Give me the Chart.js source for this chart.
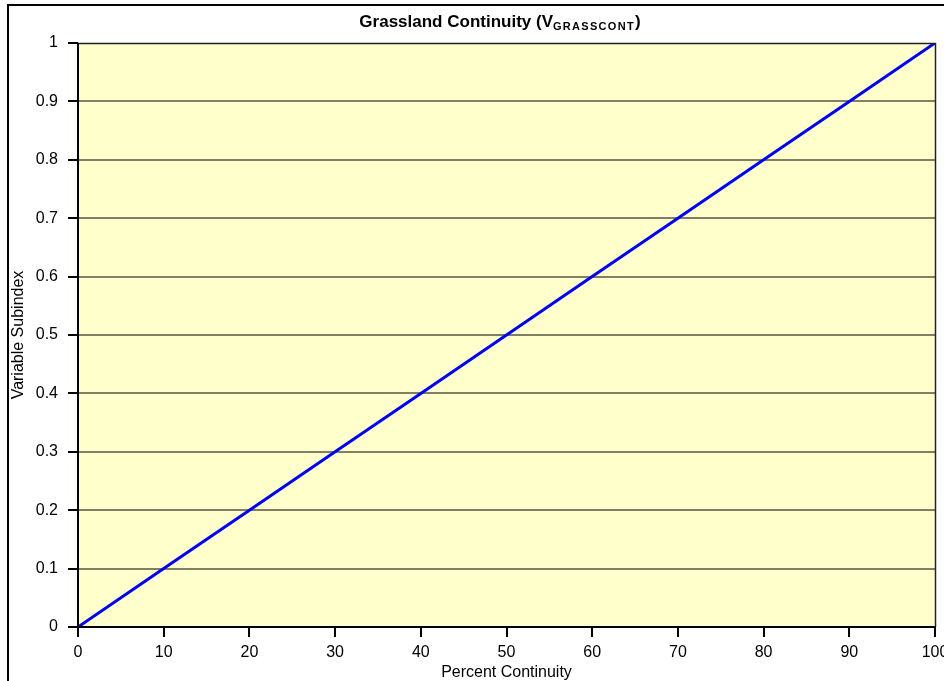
<!DOCTYPE html>
<html>
<head>
<meta charset="utf-8">
<script src="https://cdn.jsdelivr.net/npm/chart.js@4/dist/chart.umd.min.js"></script>
<style>
  html, body { margin: 0; padding: 0; background: #fff; overflow: hidden; }
  #wrap { position: relative; width: 944px; height: 681px; overflow: hidden; }
  #frame { position: absolute; left: 7px; top: 4px; width: 2000px; height: 2000px; border: 2px solid #000; box-sizing: border-box; }
  #c { position: absolute; left: 0; top: 0; }
  #title { position: absolute; left: 500px; top: 13px; transform: translateX(-50%); white-space: nowrap;
           font: bold 17px "Liberation Sans", Arial, sans-serif; line-height: 17px; color: #000; }
  #title sub { font-size: 11px; letter-spacing: 1.3px; vertical-align: -3px; line-height: 0; }
</style>
</head>
<body>
<div id="wrap">
  <div id="frame"></div>
  <canvas id="c" width="944" height="681"></canvas>
  <div id="title">Grassland Continuity (V<sub>GRASSCONT</sub>)</div>
</div>
<script>
const percentContinuity = [0, 10, 20, 30, 40, 50, 60, 70, 80, 90, 100];
const variableSubindex = [0, 0.1, 0.2, 0.3, 0.4, 0.5, 0.6, 0.7, 0.8, 0.9, 1];
const xTickLabels = ['0', '10', '20', '30', '40', '50', '60', '70', '80', '90', '100'];
const yTickLabels = ['0', '0.1', '0.2', '0.3', '0.4', '0.5', '0.6', '0.7', '0.8', '0.9', '1'];

const FONT = '"Liberation Sans", Arial, sans-serif';

const plotBg = {
  id: 'plotBg',
  beforeDraw(chart) {
    const { ctx, chartArea: a } = chart;
    ctx.save();
    ctx.fillStyle = '#FFFFCC';
    ctx.fillRect(a.left, a.top, a.right - a.left, a.bottom - a.top);
    ctx.restore();
  },
  afterDatasetsDraw(chart) {
    const { ctx, chartArea: a } = chart;
    ctx.save();
    ctx.strokeStyle = '#222';
    ctx.lineWidth = 1.5;
    ctx.beginPath();
    ctx.moveTo(a.left, a.top + 0.5);
    ctx.lineTo(a.right + 0.5, a.top + 0.5);
    ctx.lineTo(a.right + 0.5, a.bottom);
    ctx.stroke();
    ctx.strokeStyle = '#000';
    ctx.lineWidth = 2;
    ctx.beginPath();
    ctx.moveTo(a.left, a.top);
    ctx.lineTo(a.left, a.bottom);
    ctx.lineTo(a.right + 1, a.bottom);
    ctx.stroke();
    ctx.restore();
  }
};

new Chart(document.getElementById('c'), {
  type: 'line',
  data: {
    datasets: [{
      data: percentContinuity.map((x, i) => ({ x: x, y: variableSubindex[i] })),
      borderColor: '#0000FF',
      borderWidth: 3,
      pointRadius: 0,
      fill: false,
      tension: 0
    }]
  },
  options: {
    responsive: false,
    animation: false,
    devicePixelRatio: 1,
    layout: { padding: { top: 43, right: 9, left: 0, bottom: 0 } },
    plugins: { legend: { display: false }, tooltip: { enabled: false }, title: { display: false } },
    scales: {
      x: {
        type: 'linear',
        min: 0, max: 100,
        afterBuildTicks(s) { s.ticks = percentContinuity.map(v => ({ value: v })); },
        afterFit(s) { s.height = 54; s.paddingLeft = 0; s.paddingRight = 0; },
        ticks: {
          color: '#000', padding: 6, maxRotation: 0, autoSkip: false,
          font: { family: FONT, size: 16 },
          callback: (v, i) => xTickLabels[i]
        },
        grid: { drawOnChartArea: false, color: '#000', tickColor: '#000', tickLength: 10, lineWidth: 2 },
        border: { display: false },
        title: {
          display: true, text: 'Percent Continuity', color: '#000',
          font: { family: FONT, size: 16, lineHeight: 1 }, padding: { top: 0, bottom: 0 }
        }
      },
      y: {
        type: 'linear',
        min: 0, max: 1,
        afterBuildTicks(s) { s.ticks = variableSubindex.map(v => ({ value: v })); },
        afterFit(s) { s.width = 78; s.paddingTop = 0; s.paddingBottom = 0; },
        ticks: {
          color: '#000', padding: 10, autoSkip: false,
          font: { family: FONT, size: 16 },
          callback: (v, i) => yTickLabels[i]
        },
        grid: {
          color: (ctx) => (ctx.index === 0 || ctx.index === 10) ? 'rgba(0,0,0,0)' : 'rgba(0,0,0,0.5)',
          tickColor: '#000', tickLength: 10, lineWidth: 2, tickWidth: 2
        },
        border: { display: false },
        title: {
          display: true, text: 'Variable Subindex', color: '#000',
          font: { family: FONT, size: 16, lineHeight: 1 }, padding: { top: 11, bottom: 0 }
        }
      }
    }
  },
  plugins: [plotBg]
});
</script>
</body>
</html>
